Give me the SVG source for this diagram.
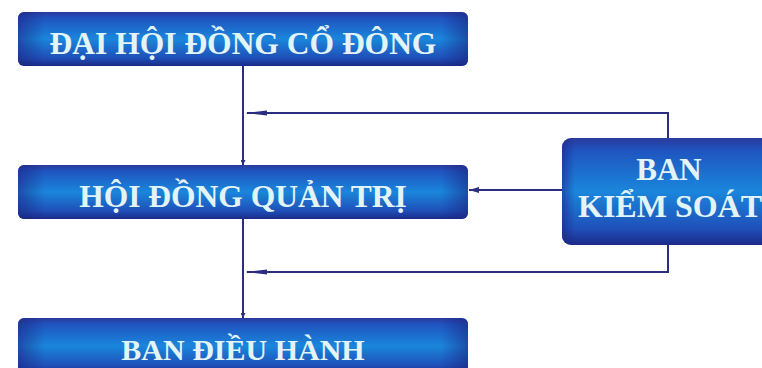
<svg xmlns="http://www.w3.org/2000/svg" width="762" height="368" viewBox="0 0 762 368">
<defs>
<linearGradient id="gv" x1="0" y1="0" x2="0" y2="1">
<stop offset="0" stop-color="#2b3a9e"/>
<stop offset="0.12" stop-color="#1f55c0"/>
<stop offset="0.5" stop-color="#1a86dc"/>
<stop offset="0.85" stop-color="#1f4fb8"/>
<stop offset="1" stop-color="#1c2a88"/>
</linearGradient>
<linearGradient id="gh" x1="0" y1="0" x2="1" y2="0">
<stop offset="0" stop-color="#1a237e" stop-opacity="0.55"/>
<stop offset="0.06" stop-color="#1a237e" stop-opacity="0"/>
<stop offset="0.94" stop-color="#1a237e" stop-opacity="0"/>
<stop offset="1" stop-color="#1a237e" stop-opacity="0.55"/>
</linearGradient>
<marker id="as" viewBox="0 0 10 6" refX="10" refY="3" markerWidth="10" markerHeight="6" markerUnits="userSpaceOnUse" orient="auto">
<path d="M0,0 L10,3 L0,6 Z" fill="#2b2d7e"/>
</marker>
<marker id="at" viewBox="0 0 6 6" refX="6" refY="3" markerWidth="6" markerHeight="5" markerUnits="userSpaceOnUse" orient="auto">
<path d="M0,0 L6,3 L0,6 Z" fill="#2b2d7e"/>
</marker>
</defs>
<style>
.box{fill:url(#gv);}
.shade{fill:url(#gh);}
.t{font-family:"Liberation Serif","Times New Roman",serif;font-weight:bold;fill:#e3f4f6;text-anchor:middle;}
.ln{stroke:#2b2d7e;stroke-width:2;fill:none;}
</style>
<rect width="762" height="368" fill="#ffffff"/>
<g id="connectors">
<line class="ln" x1="243" y1="66" x2="243" y2="165" marker-end="url(#at)"/>
<line class="ln" x1="243" y1="219" x2="243" y2="318" marker-end="url(#at)"/>
<polyline class="ln" points="668,138 668,113 247,113"/>
<path d="M245,113 L267,110.5 L267,115.5 Z" fill="#2b2d7e"/>
<polyline class="ln" points="668,245 668,272 247,272"/>
<path d="M245,272 L267,269.5 L267,274.5 Z" fill="#2b2d7e"/>
<line class="ln" x1="562" y1="190" x2="469" y2="190" marker-end="url(#as)"/>
</g>
<g id="dhdcd">
<rect class="box" x="18" y="12" width="450" height="54" rx="6"/>
<rect class="shade" x="18" y="12" width="450" height="54" rx="6"/>
<text class="t" x="243" y="54" font-size="31.5">ĐẠI HỘI ĐỒNG CỔ ĐÔNG</text>
</g>
<g id="hdqt">
<rect class="box" x="18" y="165" width="450" height="54" rx="6"/>
<rect class="shade" x="18" y="165" width="450" height="54" rx="6"/>
<text class="t" x="243" y="207" font-size="31.5">HỘI ĐỒNG QUẢN TRỊ</text>
</g>
<g id="bdh">
<rect class="box" x="18" y="318" width="450" height="56" rx="6"/>
<rect class="shade" x="18" y="318" width="450" height="56" rx="6"/>
<text class="t" x="243" y="360" font-size="30">BAN ĐIỀU HÀNH</text>
</g>
<g id="bks">
<rect class="box" x="562" y="138" width="214" height="107" rx="9"/>
<rect class="shade" x="562" y="138" width="214" height="107" rx="9"/>
<text class="t" x="669" y="180" font-size="31">BAN</text>
<text class="t" x="670" y="217" font-size="32">KIỂM SOÁT</text>
</g>
</svg>
